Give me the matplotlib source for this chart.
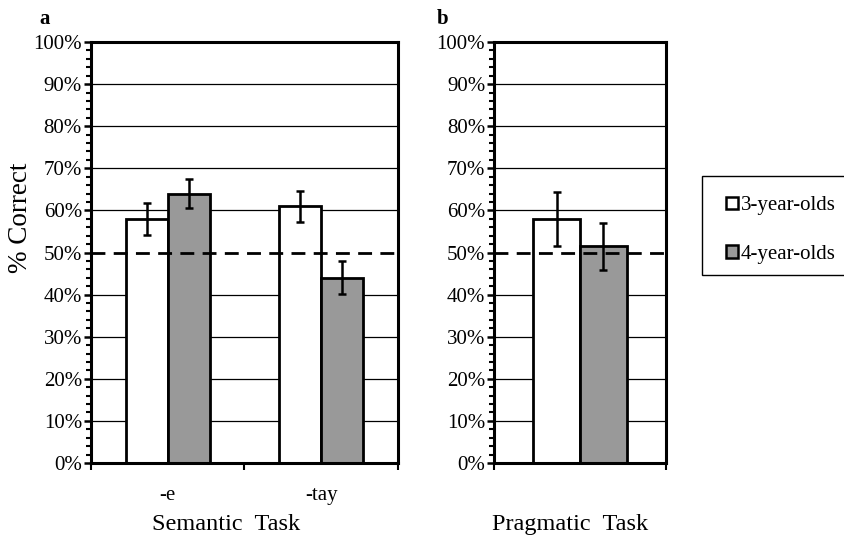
import matplotlib
matplotlib.use("Agg")
import matplotlib.pyplot as plt
from matplotlib.patches import Rectangle
from matplotlib.ticker import MultipleLocator, FixedLocator, PercentFormatter

plt.rcParams["font.family"] = ["Liberation Serif", "DejaVu Serif"]

# Semantic task (panel a)
semantic_conditions = ["-e", "-tay"]
semantic_3yo = [58, 61]
semantic_3yo_err = [3.8, 3.7]
semantic_4yo = [64, 44]
semantic_4yo_err = [3.5, 3.9]

# Pragmatic task (panel b)
pragmatic_3yo = [58]
pragmatic_3yo_err = [6.4]
pragmatic_4yo = [51.5]
pragmatic_4yo_err = [5.6]

groups = ["3-year-olds", "4-year-olds"]
colors = ["white", "#999999"]
chance = 50

W, H = 845, 535
fig = plt.figure(figsize=(W / 100, H / 100), dpi=100)

ax_a = fig.add_axes([91 / W, 1 - 463 / H, 307 / W, 421 / H])
ax_b = fig.add_axes([494.3 / W, 1 - 463 / H, 171.4 / W, 421 / H])

bw = 0.274


def draw_panel(ax, v3, e3, v4, e4):
    n = len(v3)
    xs = list(range(n))
    for vals, errs, col, off in ((v3, e3, colors[0], -bw / 2), (v4, e4, colors[1], bw / 2)):
        pos = [x + off for x in xs]
        ax.bar(pos, vals, width=bw, color=col, edgecolor="black", linewidth=2.0, zorder=2)
        ax.errorbar(pos, vals, yerr=errs, fmt="none", ecolor="black",
                    elinewidth=1.8, capsize=2.8, capthick=1.8, zorder=3)
    ax.set_xlim(-0.5, n - 0.5)
    ax.set_ylim(0, 100)
    for g in range(10, 100, 10):
        if g != chance:
            ax.axhline(g, color="black", linewidth=0.9, zorder=1)
    ax.axhline(chance, color="black", linewidth=2.0, dashes=(5, 3), zorder=4)
    for s in ax.spines.values():
        s.set_linewidth(2.2)
        s.set_zorder(5)
    ax.yaxis.set_major_locator(MultipleLocator(10))
    ax.yaxis.set_minor_locator(MultipleLocator(2))
    ax.yaxis.set_major_formatter(PercentFormatter(decimals=0))
    ax.tick_params(axis="y", which="major", direction="out", length=5, width=1.8,
                   labelsize=15, pad=1.5)
    ax.tick_params(axis="y", which="minor", direction="out", length=3.5, width=1.5)
    ax.xaxis.set_major_locator(FixedLocator([i - 0.5 for i in range(n + 1)]))
    ax.xaxis.set_major_formatter(plt.NullFormatter())
    ax.tick_params(axis="x", which="major", direction="out", length=5, width=1.5)
    return xs


xs_a = draw_panel(ax_a, semantic_3yo, semantic_3yo_err, semantic_4yo, semantic_4yo_err)
ax_a.xaxis.set_minor_locator(FixedLocator(xs_a))
ax_a.set_xticklabels(semantic_conditions, minor=True)
ax_a.tick_params(axis="x", which="minor", length=0, labelsize=15, pad=16.5)

ax_a.set_xlabel("Semantic  Task", fontsize=17.5)
ax_a.xaxis.label.set_va("baseline")
ax_a.xaxis.set_label_coords(0.44, -67 / 421)

ax_a.set_ylabel("% Correct", fontsize=19.5)
ax_a.yaxis.label.set_va("center")
ax_a.yaxis.set_label_coords(-70 / 307, (463 - 217.5) / 421)

draw_panel(ax_b, pragmatic_3yo, pragmatic_3yo_err, pragmatic_4yo, pragmatic_4yo_err)
ax_b.set_xlabel("Pragmatic  Task", fontsize=17.5)
ax_b.xaxis.label.set_va("baseline")
ax_b.xaxis.set_label_coords(0.442, -67 / 421)

fig.text(39 / W, 1 - 24 / H, "a", fontsize=15, fontweight="bold", ha="left", va="baseline")
fig.text(437 / W, 1 - 24 / H, "b", fontsize=15, fontweight="bold", ha="left", va="baseline")

# Legend box, drawn in figure pixels
def px(x, y):
    return x / W, 1 - y / H

fig.patches.append(Rectangle(px(702, 275), 150 / W, 99 / H, transform=fig.transFigure,
                             facecolor="white", edgecolor="black", linewidth=1.0))
for i, (label, col) in enumerate(zip(groups, colors)):
    yc = 203 + 48.5 * i
    fig.patches.append(Rectangle(px(726, yc + 6), 12 / W, 12 / H, transform=fig.transFigure,
                                 facecolor=col, edgecolor="black", linewidth=1.8))
    fig.text(*px(740.5, yc), label, fontsize=15, ha="left", va="center_baseline")

fig.savefig("out.png", dpi=100)
